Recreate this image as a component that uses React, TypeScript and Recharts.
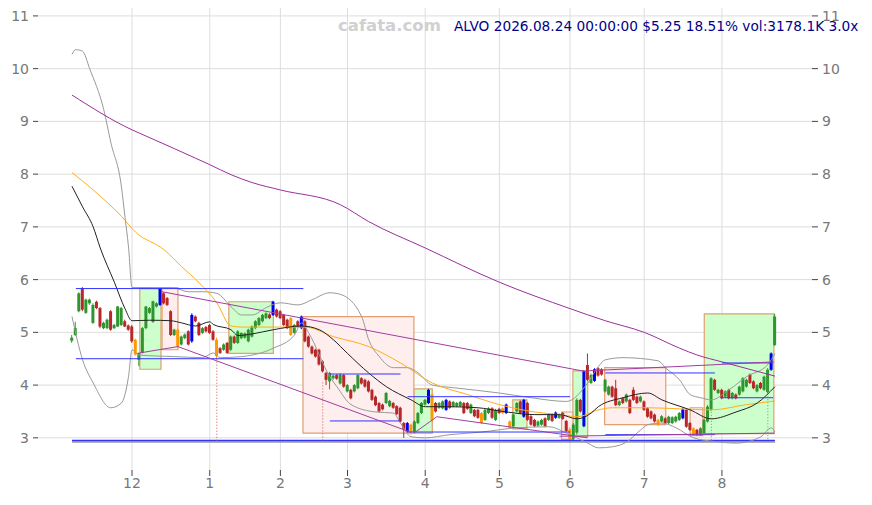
import { Bar, CartesianGrid, ComposedChart, Line, ReferenceArea, ReferenceLine, XAxis, YAxis } from "recharts";

// daily candles: [open, high, low, close], index 0 = first trading day shown
const candles: [number, number, number, number][] = [
  [4.84, 4.95, 4.8, 4.9], [4.95, 5.2, 4.93, 5.08], [5.4, 5.76, 5.38, 5.74], [5.84, 5.86, 5.4, 5.43],
  [5.37, 5.64, 5.35, 5.62], [5.55, 5.64, 5.52, 5.62], [5.18, 5.55, 5.16, 5.52], [5.58, 5.6, 5.44, 5.46],
  [5.46, 5.48, 5.08, 5.11], [5.08, 5.2, 5.06, 5.18], [5.08, 5.26, 5.06, 5.24], [5.4, 5.42, 5.03, 5.05],
  [5.08, 5.16, 5.06, 5.14], [5.11, 5.5, 5.1, 5.49], [5.14, 5.48, 5.12, 5.46], [5.21, 5.24, 5.1, 5.11],
  [5.13, 5.15, 5.03, 5.05], [5.11, 5.14, 4.8, 4.83], [4.86, 4.88, 4.56, 4.58], [4.48, 4.62, 4.36, 4.61],
  [4.61, 5.1, 4.6, 5.08], [5.08, 5.5, 5.06, 5.49], [5.37, 5.48, 5.35, 5.46], [5.2, 5.6, 5.18, 5.59],
  [5.49, 5.57, 5.47, 5.55], [5.52, 5.86, 5.5, 5.84], [5.74, 5.76, 5.53, 5.55], [5.65, 5.67, 5.5, 5.52],
  [5.4, 5.42, 4.93, 4.95], [4.95, 5.07, 4.93, 5.05], [5.05, 5.07, 4.71, 4.73], [4.77, 4.94, 4.75, 4.92],
  [4.89, 4.98, 4.87, 4.96], [5.02, 5.04, 4.75, 4.77], [4.83, 5.36, 4.8, 5.33], [5.3, 5.32, 5.19, 5.21],
  [5.18, 5.2, 4.93, 4.95], [4.99, 5.1, 4.97, 5.08], [5.1, 5.12, 5.0, 5.02], [5.14, 5.16, 4.97, 4.99],
  [5.02, 5.04, 4.84, 4.86], [4.86, 4.9, 4.5, 4.55], [4.7, 4.72, 4.59, 4.61], [4.67, 4.79, 4.65, 4.77],
  [4.8, 4.82, 4.59, 4.61], [4.67, 4.94, 4.65, 4.92], [4.92, 4.94, 4.78, 4.8], [4.8, 5.04, 4.78, 5.02],
  [4.89, 5.0, 4.87, 4.99], [4.9, 5.0, 4.88, 4.98], [4.83, 5.07, 4.81, 5.05], [4.92, 5.13, 4.9, 5.11],
  [5.08, 5.23, 5.06, 5.21], [5.14, 5.29, 5.12, 5.27], [5.21, 5.35, 5.19, 5.33], [5.27, 5.38, 5.25, 5.36],
  [5.34, 5.36, 5.25, 5.27], [5.33, 5.6, 5.31, 5.58], [5.43, 5.45, 5.28, 5.3], [5.4, 5.42, 5.25, 5.27],
  [5.33, 5.35, 5.12, 5.14], [5.24, 5.26, 5.06, 5.08], [5.27, 5.29, 4.93, 4.95], [4.99, 5.16, 4.97, 5.14],
  [5.21, 5.23, 5.09, 5.11], [5.08, 5.32, 5.06, 5.3], [5.21, 5.23, 4.81, 4.83], [4.92, 4.94, 4.71, 4.73],
  [4.73, 4.75, 4.58, 4.6], [4.67, 4.69, 4.52, 4.54], [4.67, 4.69, 4.37, 4.39], [4.45, 4.47, 4.24, 4.26],
  [4.23, 4.25, 4.0, 4.1], [4.07, 4.25, 3.92, 4.23], [4.13, 4.2, 4.1, 4.18], [4.19, 4.21, 4.1, 4.12],
  [4.03, 4.22, 4.01, 4.2], [4.19, 4.21, 3.95, 3.97], [3.88, 4.02, 3.86, 4.0], [3.91, 3.93, 3.73, 3.75],
  [3.88, 4.02, 3.86, 4.0], [3.94, 4.2, 3.92, 4.19], [4.13, 4.15, 4.01, 4.03], [4.1, 4.12, 3.95, 3.97],
  [4.07, 4.09, 3.86, 3.88], [3.91, 3.93, 3.7, 3.72], [3.78, 3.8, 3.6, 3.62], [3.66, 3.68, 3.48, 3.5],
  [3.63, 3.65, 3.52, 3.54], [3.66, 3.87, 3.64, 3.85], [3.6, 3.72, 3.58, 3.7], [3.66, 3.68, 3.55, 3.57],
  [3.6, 3.62, 3.43, 3.45], [3.57, 3.59, 3.29, 3.31], [3.28, 3.3, 3.0, 3.16], [3.12, 3.3, 3.1, 3.28],
  [3.25, 3.27, 3.06, 3.1], [3.12, 3.33, 3.1, 3.31], [3.28, 3.49, 3.26, 3.47], [3.47, 3.68, 3.45, 3.66],
  [3.63, 3.74, 3.61, 3.72], [3.66, 3.93, 3.64, 3.91], [3.82, 3.84, 3.3, 3.34], [3.66, 3.68, 3.48, 3.5],
  [3.57, 3.68, 3.55, 3.66], [3.56, 3.71, 3.54, 3.69], [3.53, 3.74, 3.51, 3.72], [3.69, 3.71, 3.55, 3.57],
  [3.6, 3.7, 3.58, 3.68], [3.6, 3.68, 3.58, 3.66], [3.6, 3.7, 3.58, 3.68], [3.66, 3.68, 3.45, 3.47],
  [3.66, 3.68, 3.53, 3.55], [3.47, 3.65, 3.45, 3.63], [3.53, 3.55, 3.39, 3.41], [3.53, 3.55, 3.36, 3.38],
  [3.47, 3.49, 3.26, 3.28], [3.34, 3.55, 3.32, 3.53], [3.47, 3.58, 3.45, 3.56], [3.56, 3.58, 3.36, 3.38],
  [3.34, 3.55, 3.32, 3.53], [3.55, 3.57, 3.45, 3.47], [3.56, 3.58, 3.45, 3.47], [3.47, 3.65, 3.45, 3.63],
  [3.31, 3.33, 3.17, 3.19], [3.22, 3.45, 3.2, 3.44], [3.5, 3.68, 3.48, 3.66], [3.69, 3.71, 3.45, 3.47],
  [3.4, 3.74, 3.38, 3.72], [3.66, 3.68, 3.32, 3.34], [3.41, 3.43, 3.23, 3.25], [3.34, 3.36, 3.2, 3.22],
  [3.23, 3.33, 3.21, 3.31], [3.25, 3.36, 3.23, 3.34], [3.37, 3.39, 3.2, 3.22], [3.34, 3.46, 3.32, 3.44],
  [3.44, 3.46, 3.3, 3.32], [3.38, 3.5, 3.36, 3.48], [3.38, 3.46, 3.36, 3.44], [3.47, 3.49, 3.34, 3.36],
  [3.32, 3.34, 3.11, 3.13], [3.16, 3.2, 2.9, 2.96], [2.98, 3.28, 2.96, 3.25], [3.1, 3.75, 3.06, 3.72],
  [3.72, 3.74, 3.48, 3.5], [3.22, 4.28, 3.2, 4.26], [4.38, 4.6, 4.08, 4.1], [4.04, 4.22, 4.02, 4.19],
  [4.08, 4.32, 4.06, 4.3], [4.32, 4.34, 4.16, 4.18], [4.3, 4.32, 4.18, 4.2], [3.88, 4.12, 3.86, 4.1],
  [3.82, 3.99, 3.8, 3.97], [3.97, 3.99, 3.76, 3.78], [3.94, 4.1, 3.6, 3.62], [3.62, 3.71, 3.6, 3.69],
  [3.75, 3.77, 3.64, 3.66], [3.69, 3.84, 3.67, 3.82], [3.72, 3.74, 3.45, 3.47], [3.91, 3.96, 3.7, 3.72],
  [3.78, 3.8, 3.64, 3.66], [3.69, 3.8, 3.67, 3.78], [3.69, 3.71, 3.51, 3.53], [3.56, 3.58, 3.38, 3.4],
  [3.5, 3.52, 3.35, 3.37], [3.44, 3.46, 3.29, 3.31], [3.34, 3.36, 3.22, 3.25], [3.31, 3.43, 3.29, 3.41],
  [3.37, 3.39, 3.26, 3.28], [3.28, 3.42, 3.26, 3.4], [3.28, 3.41, 3.26, 3.39], [3.31, 3.42, 3.29, 3.4],
  [3.34, 3.49, 3.32, 3.47], [3.37, 3.57, 3.35, 3.54], [3.53, 3.55, 3.19, 3.21], [3.28, 3.3, 3.13, 3.15],
  [3.18, 3.2, 3.04, 3.06], [3.15, 3.17, 3.04, 3.06], [3.06, 3.2, 3.04, 3.18], [3.09, 3.36, 3.07, 3.34],
  [3.31, 3.62, 3.29, 3.59], [3.53, 4.15, 3.51, 4.13], [4.1, 4.12, 3.89, 3.91], [3.85, 3.93, 3.83, 3.91],
  [3.91, 3.93, 3.73, 3.75], [3.78, 3.9, 3.76, 3.88], [3.91, 3.93, 3.73, 3.75], [3.75, 3.87, 3.73, 3.85],
  [3.82, 3.84, 3.73, 3.75], [3.82, 3.99, 3.8, 3.97], [3.88, 4.15, 3.86, 4.13], [3.97, 4.12, 3.95, 4.1],
  [4.2, 4.22, 4.02, 4.04], [4.07, 4.09, 3.92, 3.94], [3.88, 4.02, 3.86, 4.0], [4.04, 4.06, 3.92, 3.94],
  [3.91, 4.18, 3.89, 4.16], [3.87, 4.32, 3.85, 4.29], [4.29, 4.62, 4.27, 4.6], [4.76, 5.35, 4.74, 5.3],
];

const blueDays = [25, 34, 57, 65, 95, 101, 106, 123, 128, 137, 145, 148, 173, 198];
const orangeDays = [18, 30, 41, 62, 96, 102, 116, 122, 124, 141, 166, 176];

// indicator lines read at sample days: [day index, price]
const bbUpper: [number, number][] = [
  [0, 10.27], [1, 10.36], [3, 10.33], [5, 10.0], [9, 9.22], [11, 8.6], [14, 7.76], [15, 7.19], [16, 6.62],
  [17, 5.85], [19, 5.85], [23, 5.85], [29, 5.84], [33, 5.77], [37, 5.77], [41, 5.74], [45, 5.49], [48, 5.33],
  [51, 5.33], [55, 5.47], [59, 5.56], [64, 5.52], [68, 5.62], [73, 5.75], [76, 5.72], [82, 5.3], [84, 4.86],
  [87, 4.54], [91, 4.33], [95, 4.33], [98, 4.23], [102, 4.0], [108, 3.95], [121, 3.85], [130, 3.76],
  [140, 3.69], [146, 4.04], [149, 4.35], [151, 4.48], [156, 4.52], [166, 4.46], [168, 4.33], [172, 4.1],
  [175, 3.82], [178, 3.76], [181, 3.72], [186, 3.91], [191, 4.16], [197, 4.39], [199, 4.6],
];
const bbLower: [number, number][] = [
  [0, 5.3], [3, 4.48], [6, 4.04], [11, 3.57], [14, 3.66], [16, 4.16], [17, 4.67], [19, 4.57], [29, 4.54],
  [37, 4.52], [40, 4.61], [42, 4.52], [48, 4.54], [57, 4.7], [63, 4.95], [65, 5.18], [67, 4.99], [73, 4.16],
  [75, 3.97], [79, 3.63], [86, 3.49], [91, 3.47], [93, 3.28], [96, 3.02], [100, 3.0], [107, 3.06],
  [116, 3.11], [126, 3.19], [135, 3.21], [140, 3.09], [146, 2.9], [149, 2.81], [153, 2.83], [157, 2.92],
  [161, 3.15], [163, 3.25], [167, 3.28], [171, 3.19], [176, 3.0], [182, 2.93], [188, 2.9], [195, 3.02],
  [198, 3.19], [199, 3.11],
];
const maShort: [number, number][] = [
  [0, 7.77], [3, 7.38], [6, 7.0], [8, 6.6], [12, 5.95], [15, 5.45], [17, 5.22], [22, 5.23], [28, 5.22],
  [31, 5.18], [35, 5.12], [39, 5.2], [40, 5.15], [45, 5.05], [47, 4.94], [51, 4.97], [57, 5.05], [65, 5.12],
  [70, 5.05], [74, 4.86], [78, 4.6], [84, 4.23], [89, 3.97], [96, 3.72], [100, 3.59], [107, 3.59],
  [115, 3.57], [121, 3.51], [131, 3.44], [138, 3.44], [143, 3.36], [147, 3.47], [149, 3.59], [156, 3.76],
  [163, 3.85], [167, 3.72], [175, 3.53], [181, 3.36], [188, 3.49], [194, 3.66], [199, 3.97],
];
const maMid: [number, number][] = [
  [0, 8.03], [6, 7.7], [14, 7.2], [18, 6.9], [26, 6.57], [31, 6.25], [36, 5.94], [41, 5.56], [45, 5.12],
  [48, 5.1], [57, 5.1], [66, 5.1], [74, 4.92], [84, 4.73], [93, 4.42], [102, 4.04], [112, 3.82],
  [121, 3.63], [131, 3.49], [138, 3.44], [143, 3.4], [149, 3.53], [153, 3.57], [163, 3.57], [172, 3.55],
  [181, 3.53], [191, 3.63], [199, 3.7],
];
const maLong: [number, number][] = [
  [0, 9.5], [17, 8.84], [19, 8.78], [39, 8.18], [45, 7.99], [51, 7.84], [59, 7.7], [76, 7.42], [84, 7.1],
  [100, 6.6], [121, 5.95], [141, 5.45], [151, 5.22], [162, 5.0], [172, 4.7], [177, 4.57], [184, 4.44],
  [199, 4.17],
];

// boxes: [fromDay, toDay, low, high]
const upBoxes: [number, number, number, number][] = [
  [19.2, 25.2, 4.3, 5.83], [44.4, 57, 4.6, 5.58], [96.8, 102, 3.09, 3.93],
  [124.8, 128.8, 3.17, 3.72], [141.8, 146, 3.02, 4.27], [179, 198.7, 3.08, 5.35],
];
const downBoxes: [number, number, number, number][] = [
  [25.5, 30, 4.67, 5.85], [65.4, 96.8, 3.09, 5.3], [138.6, 141.8, 2.97, 3.49],
  [150.8, 168.1, 3.25, 4.33], [175, 178.6, 3.04, 3.57],
];
// levels: [fromDay, toDay, price]
const levels: [number, number, number][] = [
  [1.1, 65.5, 5.83], [1.1, 65.5, 4.5], [73, 93, 4.21], [73, 93, 3.32], [95, 141, 3.78], [95, 141, 3.11],
  [151, 182, 4.23], [151, 182, 3.06], [184, 198.5, 3.76], [184, 198.5, 4.42],
];
// trend lines: [day1, price1, day2, price2]
const trends: [number, number, number, number][] = [
  [25.5, 5.77, 146, 4.25], [19.2, 4.61, 30, 4.73], [30, 4.73, 95.7, 3.11], [96.8, 3.09, 103.3, 3.4],
  [103.3, 3.4, 146, 3.0], [145.8, 4.27, 198.7, 4.44], [138, 3.03, 199, 3.09],
];
const signalDays: [number, number, string][] = [[41, 4.5, "#cc5555"], [71, 4.05, "#cc5555"], [181, 3.55, "#55aa55"], [197, 4.3, "#55aa55"]];

const monthTicks = [17, 39, 59, 78, 100, 121, 141, 162, 184];
const monthLabels = ["12", "1", "2", "3", "4", "5", "6", "7", "8"];
const priceTicks = [3, 4, 5, 6, 7, 8, 9, 10, 11];

const GREEN = "#2e962e";
const RED = "#b82828";

const lineMap = (pairs: [number, number][]) => new Map(pairs);
const maps = { bbU: lineMap(bbUpper), bbL: lineMap(bbLower), ma1: lineMap(maShort), ma2: lineMap(maMid), ma3: lineMap(maLong) };

const rows = candles.map(([o, h, l, c], i) => ({
  i,
  o, h, l, c,
  col: blueDays.includes(i) ? "#0000ee" : orangeDays.includes(i) ? "#ff9900" : c >= o ? GREEN : RED,
  bbU: maps.bbU.get(i) ?? null,
  bbL: maps.bbL.get(i) ?? null,
  ma1: maps.ma1.get(i) ?? null,
  ma2: maps.ma2.get(i) ?? null,
  ma3: maps.ma3.get(i) ?? null,
}));

function Candle(props: any) {
  const { x, y, width, height, payload } = props;
  if (!payload || height == null) return null;
  const { o, h, l, c, col } = payload;
  const top = Math.min(y, y + height);
  const span = Math.abs(height);
  const k = h - l > 0 ? span / (h - l) : 0;
  const py = (v: number) => top + (h - v) * k;
  const cx = x + width / 2;
  const bTop = py(Math.max(o, c));
  const bBot = py(Math.min(o, c));
  return (
    <g>
      <line x1={cx} x2={cx} y1={top} y2={top + span} stroke={col} strokeWidth={1} />
      <rect x={x} y={bTop} width={width} height={Math.max(1, bBot - bTop)} fill={col} />
    </g>
  );
}

export default function App() {
  const tick = { fontSize: 14, fill: "#777" };
  return (
    <div style={{ position: "absolute", left: 0, top: 0, width: 872, height: 505, background: "#fff", fontFamily: "DejaVu Sans" }}>
      <ComposedChart width={872} height={505} data={rows} margin={{ top: 8, right: 0, bottom: 0, left: 0 }}>
        <CartesianGrid yAxisId="l" stroke="#dddddd" horizontalValues={priceTicks} verticalValues={monthTicks} />
        <XAxis dataKey="i" type="number" domain={[-9.62, 209.5]} allowDataOverflow ticks={monthTicks}
          tickFormatter={(v) => monthLabels[monthTicks.indexOf(v)] ?? ""} height={35} axisLine={false}
          tickLine={{ stroke: "#444" }} tick={tick} />
        <YAxis yAxisId="l" domain={[2.39, 11.15]} allowDataOverflow ticks={priceTicks} width={38}
          axisLine={false} tickSize={5} tickMargin={4} tickLine={{ stroke: "#444" }} tick={tick} />
        <YAxis yAxisId="r" orientation="right" domain={[2.39, 11.15]} allowDataOverflow ticks={priceTicks} width={60}
          axisLine={false} tickSize={6} tickMargin={4} tickLine={{ stroke: "#444" }} tick={tick} />
        {upBoxes.map(([x1, x2, y1, y2], k) => (
          <ReferenceArea key={"u" + k} yAxisId="l" x1={x1} x2={x2} y1={y1} y2={y2} fill="#ccffcc" fillOpacity={1}
            stroke="#e0a070" strokeWidth={1.2} ifOverflow="visible" />
        ))}
        {downBoxes.map(([x1, x2, y1, y2], k) => (
          <ReferenceArea key={"d" + k} yAxisId="l" x1={x1} x2={x2} y1={y1} y2={y2} fill="#ffeeee" fillOpacity={1}
            stroke="#e0a070" strokeWidth={1.2} ifOverflow="visible" />
        ))}
        <ReferenceLine yAxisId="l" segment={[{ x: 0, y: 2.92 }, { x: 199, y: 2.92 }]} stroke="#999" strokeWidth={1.5} />
        <ReferenceLine yAxisId="l" segment={[{ x: 0, y: 2.95 }, { x: 199, y: 2.95 }]} stroke="#3333ff" strokeWidth={1.5} />
        {signalDays.map(([d, p, col], k) => (
          <ReferenceLine key={"s" + k} yAxisId="l" segment={[{ x: d, y: p }, { x: d, y: 2.92 }]} stroke={col}
            strokeDasharray="1 2" />
        ))}
        <Bar yAxisId="l" dataKey={(d: any) => [d.l, d.h]} barSize={3} shape={Candle} isAnimationActive={false} />
        <Line yAxisId="l" dataKey="bbU" stroke="#999" strokeWidth={1} dot={false} connectNulls type="monotone" isAnimationActive={false} />
        <Line yAxisId="l" dataKey="bbL" stroke="#999" strokeWidth={1} dot={false} connectNulls type="monotone" isAnimationActive={false} />
        <Line yAxisId="l" dataKey="ma2" stroke="#ffae1a" strokeWidth={1} dot={false} connectNulls type="monotone" isAnimationActive={false} />
        <Line yAxisId="l" dataKey="ma1" stroke="#222" strokeWidth={1} dot={false} connectNulls type="monotone" isAnimationActive={false} />
        <Line yAxisId="l" dataKey="ma3" stroke="#9b2f9b" strokeWidth={1} dot={false} connectNulls type="monotone" isAnimationActive={false} />
        {levels.map(([x1, x2, p], k) => (
          <ReferenceLine key={"lv" + k} yAxisId="l" segment={[{ x: x1, y: p }, { x: x2, y: p }]} stroke="#3333ff" strokeWidth={1} />
        ))}
        {trends.map(([x1, y1, x2, y2], k) => (
          <ReferenceLine key={"t" + k} yAxisId="l" segment={[{ x: x1, y: y1 }, { x: x2, y: y2 }]} stroke="#a33ca3" strokeWidth={1} />
        ))}
      </ComposedChart>
      <div style={{ position: "absolute", left: 338, top: 16, fontSize: 16.5, fontWeight: "bold", color: "#d0d0d0" }}>cafata.com</div>
      <div style={{ position: "absolute", left: 454, top: 18, fontSize: 13.7, color: "#00008b", whiteSpace: "nowrap" }}>
        ALVO 2026.08.24 00:00:00 $5.25 18.51% vol:3178.1K 3.0x
      </div>
    </div>
  );
}
